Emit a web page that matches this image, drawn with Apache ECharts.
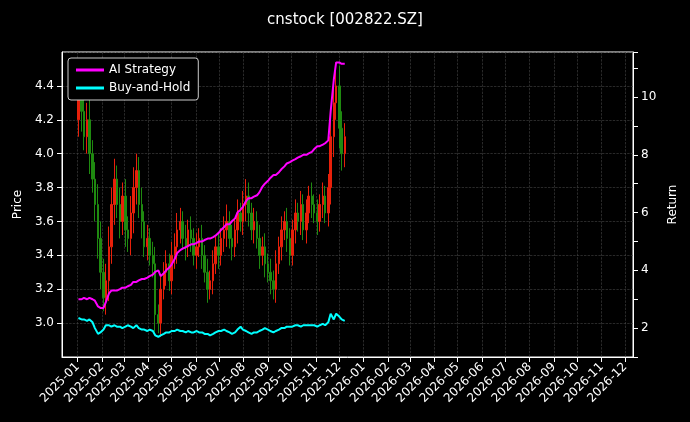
<!DOCTYPE html>
<html><head><meta charset="utf-8">
<script src="https://cdn.jsdelivr.net/npm/echarts@6/dist/echarts.min.js"></script>
<style>html,body{margin:0;background:#000}#c{width:690px;height:422px}</style>
</head><body><div id="c"></div>
<script>
var closes=[4.35,4.25,4.10,4.20,4.00,3.85,3.70,3.50,3.30,
3.15,3.25,3.45,3.70,
3.85,3.70,3.60,3.75,3.55,
3.50,3.65,3.80,3.90,3.70,3.60,3.45,3.50,3.40,
3.35,3.05,3.00,3.20,3.30,3.35,3.25,3.40,
3.45,3.55,3.60,3.50,3.45,3.55,3.50,3.40,3.45,
3.50,3.40,3.30,3.20,3.25,3.35,3.45,3.40,
3.50,3.55,3.60,3.50,3.45,3.55,3.65,3.60,3.70,
3.75,3.65,3.55,3.60,3.50,3.40,3.45,3.35,
3.30,3.25,3.20,3.35,3.45,3.55,3.60,3.50,3.40,
3.55,3.65,3.60,3.70,3.55,3.65,3.75,3.70,
3.65,3.60,3.70,3.75,3.65,3.80,4.10,4.30,
4.40,4.15,4.00,4.10];
var firstOpen=4.20;
var wicks=[0.10,0.12,0.08,0.10,0.12,0.08,0.10,0.12,0.10,
0.08,0.10,0.12,0.10,
0.12,0.08,0.10,0.08,0.10,
0.08,0.10,0.12,0.10,0.08,0.10,0.06,0.08,0.06,
0.08,0.10,0.06,0.08,0.06,0.08,0.06,0.08,
0.08,0.10,0.08,0.06,0.08,0.06,0.08,0.06,0.08,
0.06,0.08,0.06,0.08,0.06,0.08,0.06,0.08,
0.06,0.08,0.10,0.06,0.08,0.06,0.08,0.06,0.08,
0.10,0.08,0.06,0.08,0.06,0.08,0.06,0.08,
0.06,0.08,0.06,0.08,0.06,0.08,0.06,0.08,0.06,
0.06,0.08,0.06,0.08,0.06,0.08,0.06,0.08,
0.06,0.08,0.06,0.08,0.06,0.08,0.10,0.12,
0.10,0.12,0.10,0.08];
var strategy=[3.0,3.0,3.05,3.0,3.05,3.0,2.95,2.75,2.7,
2.7,2.9,3.2,3.3,
3.3,3.3,3.35,3.4,3.4,
3.45,3.5,3.6,3.6,3.65,3.7,3.7,3.75,3.8,
3.85,3.95,4.0,3.8,3.9,4.0,4.1,4.2,
4.4,4.6,4.7,4.75,4.8,4.85,4.9,4.9,4.95,
5.0,5.0,5.05,5.1,5.1,5.15,5.2,5.3,
5.4,5.5,5.6,5.6,5.7,5.8,6.0,6.1,6.2,
6.4,6.5,6.5,6.55,6.6,6.7,6.9,7.0,
7.1,7.2,7.3,7.3,7.4,7.5,7.6,7.7,7.75,
7.8,7.85,7.9,7.95,8.0,8.0,8.05,8.1,
8.2,8.3,8.3,8.35,8.4,8.5,9.5,10.6,
11.2,11.2,11.15,11.15];
var buyHold=[2.35,2.3,2.3,2.25,2.3,2.2,2.0,1.8,1.85,
1.95,2.1,2.1,2.05,
2.1,2.05,2.05,2.0,2.05,
2.1,2.05,2.0,2.1,2.0,1.95,1.95,1.9,1.95,
1.9,1.75,1.7,1.75,1.8,1.85,1.85,1.9,
1.9,1.95,1.9,1.9,1.85,1.9,1.85,1.85,1.9,
1.85,1.85,1.8,1.8,1.75,1.8,1.85,1.9,
1.9,1.95,1.9,1.85,1.8,1.85,1.95,2.05,1.95,
1.9,1.85,1.8,1.85,1.85,1.9,1.95,2.0,
1.95,1.9,1.85,1.9,1.95,2.0,2.0,2.05,2.05,
2.05,2.1,2.1,2.05,2.1,2.1,2.1,2.1,
2.1,2.05,2.1,2.15,2.1,2.2,2.5,2.3,
2.5,2.4,2.3,2.25];

function fmt(d){return d.toISOString().slice(0,10);}
var days=[];
for(var t=Date.UTC(2024,11,12);t<=Date.UTC(2026,11,11);t+=86400000)days.push(fmt(new Date(t)));
var startT=Date.UTC(2025,0,2);
var candle=[],sLine=[],bLine=[];
for(var i=0;i<closes.length;i++){
  var d=fmt(new Date(startT+Math.round(i*3.5)*86400000));
  var o=i?closes[i-1]:firstOpen,c=closes[i],w=wicks[i];
  candle.push([d,o,c,Math.min(o,c)-w,Math.max(o,c)+w]);
  sLine.push([d,strategy[i]]);bLine.push([d,buyHold[i]]);
}
var isMonth=function(idx,v){return v.slice(8)==='01';};
var chart=echarts.init(document.getElementById('c'));
chart.setOption({
  backgroundColor:'#000',animation:false,
  title:{text:'cnstock [002822.SZ]',left:'center',top:8,textStyle:{color:'#fff',fontSize:15,fontWeight:'normal',fontFamily:'DejaVu Sans'}},
  legend:{left:68,top:58,orient:'vertical',backgroundColor:'#000',borderColor:'#ccc',borderWidth:1,borderRadius:3,padding:[6,8],itemGap:6,
    itemWidth:28,itemHeight:3,icon:'rect',textStyle:{color:'#fff',fontSize:12,fontFamily:'DejaVu Sans'},data:['AI Strategy','Buy-and-Hold']},
  grid:{left:62,right:57,top:52,bottom:65,show:true,borderColor:'#fff',borderWidth:1,backgroundColor:'transparent'},
  xAxis:{type:'category',data:days,boundaryGap:false,
    axisLine:{lineStyle:{color:'#fff'}},
    axisTick:{interval:isMonth,lineStyle:{color:'#fff'}},
    axisLabel:{interval:isMonth,rotate:45,color:'#fff',fontSize:12,fontFamily:'DejaVu Sans',formatter:function(v){return v.slice(0,7);}},
    splitLine:{show:true,interval:isMonth,lineStyle:{color:'#444',type:'dashed',width:0.6}}},
  yAxis:[{type:'value',min:2.8,max:4.6,interval:0.2,name:'Price',nameLocation:'middle',nameGap:36,
    nameTextStyle:{color:'#fff',fontSize:12,fontFamily:'DejaVu Sans'},
    axisLine:{show:true,lineStyle:{color:'#fff'}},axisTick:{show:true},
    axisLabel:{color:'#fff',fontSize:12,fontFamily:'DejaVu Sans',showMinLabel:false,showMaxLabel:false,formatter:function(v){return v.toFixed(1);}},
    splitLine:{show:true,lineStyle:{color:'#444',type:'dashed',width:0.6}}},
   {type:'value',min:1,max:11.56,interval:1,name:'Return',nameLocation:'middle',nameGap:28,
    nameTextStyle:{color:'#fff',fontSize:12,fontFamily:'DejaVu Sans'},
    axisLine:{show:true,lineStyle:{color:'#fff'}},
    axisTick:{show:true,interval:function(i,v){return v%2===0;}},
    axisLabel:{color:'#fff',fontSize:12,fontFamily:'DejaVu Sans',formatter:function(v){return (v%2===0)?String(v):'';}},
    splitLine:{show:false}}],
  series:[
   {type:'candlestick',data:candle,barWidth:2,encode:{x:0,y:[1,2,3,4]},
    itemStyle:{color:'#e8200a',color0:'#1f8a10',borderColor:'#e8200a',borderColor0:'#1f8a10',borderWidth:1}},
   {name:'AI Strategy',type:'line',yAxisIndex:1,data:sLine,showSymbol:false,lineStyle:{color:'#ff00ff',width:2},itemStyle:{color:'#ff00ff'}},
   {name:'Buy-and-Hold',type:'line',yAxisIndex:1,data:bLine,showSymbol:false,lineStyle:{color:'#00ffff',width:2},itemStyle:{color:'#00ffff'}}
  ]
});
</script></body></html>
